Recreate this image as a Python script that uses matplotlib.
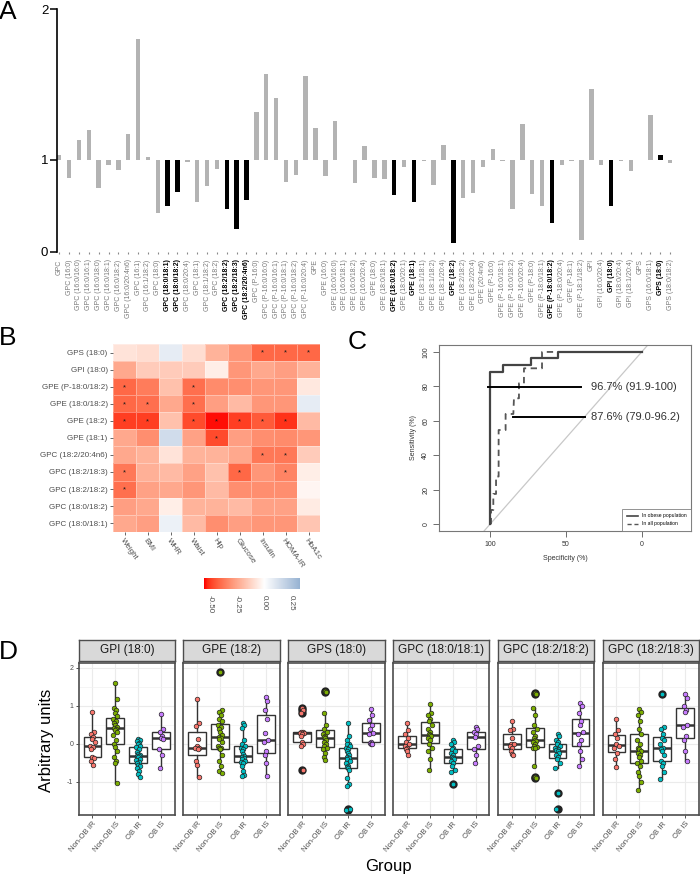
import numpy as np
import matplotlib
matplotlib.use("Agg")
import matplotlib.pyplot as plt
from matplotlib.colors import LinearSegmentedColormap, Normalize
from matplotlib.lines import Line2D

plt.rcParams['font.family'] = ['Liberation Sans', 'DejaVu Sans']

# ---------------- Panel A data ----------------
A_labels = [
    "GPC", "GPC (16:0)", "GPC (16:0/16:0)", "GPC (16:0/16:1)", "GPC (16:0/18:0)",
    "GPC (16:0/18:1)", "GPC (16:0/18:2)", "GPC (16:0/20:4n6)", "GPC (16:1)", "GPC (16:1/18:2)",
    "GPC (18:0)", "GPC (18:0/18:1)", "GPC (18:0/18:2)", "GPC (18:0/20:4)", "GPC (18:1)",
    "GPC (18:1/18:2)", "GPC (18:2)", "GPC (18:2/18:2)", "GPC (18:2/18:3)", "GPC (18:2/20:4n6)",
    "GPC (P-16:0)", "GPC (P-16:0/16:0)", "GPC (P-16:0/16:1)", "GPC (P-16:0/18:1)", "GPC (P-16:0/18:2)",
    "GPC (P-16:0/20:4)", "GPE", "GPE (16:0)", "GPE (16:0/16:0)", "GPE (16:0/18:1)",
    "GPE (16:0/18:2)", "GPE (16:0/20:4)", "GPE (18:0)", "GPE (18:0/18:1)", "GPE (18:0/18:2)",
    "GPE (18:0/20:1)", "GPE (18:1)", "GPE (18:1/18:1)", "GPE (18:1/18:2)", "GPE (18:1/20:4)",
    "GPE (18:2)", "GPE (18:2/18:2)", "GPE (18:2/20:4)", "GPE (20:4n6)", "GPE (P-16:0)",
    "GPE (P-16:0/18:1)", "GPE (P-16:0/18:2)", "GPE (P-16:0/20:4)", "GPE (P-18:0)", "GPE (P-18:0/18:1)",
    "GPE (P-18:0/18:2)", "GPE (P-18:0/20:4)", "GPE (P-18:1)", "GPE (P-18:1/18:2)", "GPI",
    "GPI (16:0/20:4)", "GPI (18:0)", "GPI (18:0/20:4)", "GPI (18:1/20:4)", "GPS",
    "GPS (16:0/18:1)", "GPS (18:0)", "GPS (18:0/18:2)",
]
A_values = [
    1.03, 0.80, 1.13, 1.20, 0.69,
    0.95, 0.89, 1.17, 1.80, 1.02,
    0.42, 0.50, 0.65, 0.98, 0.54,
    0.72, 0.90, 0.46, 0.25, 0.56,
    1.32, 1.57, 1.41, 0.76, 0.84,
    1.56, 1.21, 0.83, 1.26, 0.995,
    0.75, 1.09, 0.80, 0.79, 0.62,
    0.92, 0.54, 0.99, 0.73, 1.10,
    0.10, 0.58, 0.64, 0.92, 1.07,
    0.99, 0.47, 1.24, 0.63, 0.50,
    0.31, 0.94, 0.99, 0.13, 1.47,
    0.95, 0.50, 0.99, 0.88, 1.0,
    1.30, 1.03, 0.97,
]
A_significant = [
    "GPC (18:0/18:1)", "GPC (18:0/18:2)", "GPC (18:2/18:2)", "GPC (18:2/18:3)",
    "GPC (18:2/20:4n6)", "GPE (18:0/18:2)", "GPE (18:1)", "GPE (18:2)",
    "GPE (P-18:0/18:2)", "GPI (18:0)", "GPS (18:0)",
]
A_yticks = [0, 1, 2]

# ---------------- Panel B data ----------------
B_rows = ["GPS (18:0)", "GPI (18:0)", "GPE (P-18:0/18:2)", "GPE (18:0/18:2)", "GPE (18:2)",
          "GPE (18:1)", "GPC (18:2/20:4n6)", "GPC (18:2/18:3)", "GPC (18:2/18:2)",
          "GPC (18:0/18:2)", "GPC (18:0/18:1)"]
B_cols = ["Weight", "BMI", "WHR", "Waist", "Hip", "Glucose", "Insulin", "HOMA-IR", "HbA1c"]
B_values = [
    [-0.08, -0.10, 0.08, -0.10, -0.22, -0.30, -0.42, -0.42, -0.42],
    [-0.25, -0.15, -0.15, -0.15, -0.05, -0.30, -0.25, -0.28, -0.22],
    [-0.42, -0.37, -0.18, -0.40, -0.33, -0.32, -0.30, -0.30, -0.07],
    [-0.42, -0.40, -0.25, -0.40, -0.28, -0.20, -0.30, -0.30, 0.08],
    [-0.50, -0.50, -0.18, -0.48, -0.55, -0.50, -0.45, -0.52, -0.20],
    [-0.25, -0.32, 0.15, -0.27, -0.48, -0.28, -0.32, -0.33, -0.30],
    [-0.25, -0.22, -0.08, -0.22, -0.22, -0.25, -0.38, -0.38, -0.15],
    [-0.38, -0.23, -0.20, -0.27, -0.18, -0.42, -0.30, -0.35, -0.05],
    [-0.40, -0.27, -0.25, -0.30, -0.20, -0.32, -0.32, -0.32, -0.03],
    [-0.28, -0.25, -0.05, -0.22, -0.22, -0.20, -0.27, -0.27, -0.06],
    [-0.25, -0.28, 0.06, -0.20, -0.32, -0.28, -0.30, -0.30, -0.17],
]
B_stars = [
    [0, 0, 0, 0, 0, 0, 1, 1, 1],
    [0, 0, 0, 0, 0, 0, 0, 0, 0],
    [1, 0, 0, 1, 0, 0, 0, 0, 0],
    [1, 1, 0, 1, 0, 0, 0, 0, 0],
    [1, 1, 0, 1, 1, 1, 1, 1, 0],
    [0, 0, 0, 0, 1, 0, 0, 0, 0],
    [0, 0, 0, 0, 0, 0, 1, 1, 0],
    [1, 0, 0, 0, 0, 1, 0, 1, 0],
    [1, 0, 0, 0, 0, 0, 0, 0, 0],
    [0, 0, 0, 0, 0, 0, 0, 0, 0],
    [0, 0, 0, 0, 0, 0, 0, 0, 0],
]
B_limits = (-0.56, 0.33)
B_cbar_ticks = [-0.50, -0.25, 0.00, 0.25]

# ---------------- Panel C data ----------------
C_spec_obese = [100, 100, 91.6, 91.6, 73.2, 73.2, 55, 55, 0]
C_sens_obese = [0, 88.4, 88.4, 92.5, 92.5, 96.3, 96.3, 100, 100]
C_spec_all = [99.3, 99.3, 97.8, 97.8, 96.0, 96.0, 94.3, 94.3, 89.7, 89.7, 84.6, 84.2,
              80.9, 80.9, 77.6, 77.6, 65.7, 65.7, 58.2]
C_sens_all = [0, 8.3, 8.3, 17.6, 17.6, 27.7, 27.7, 54.7, 54.7, 64.0, 64.0, 73.1,
              73.1, 81.8, 81.8, 90.5, 90.5, 100, 100]
C_auc_text = ["96.7% (91.9-100)", "87.6% (79.0-96.2)"]
C_auc_y = [79.7, 62.1]
C_auc_from = [101.5, 84.6]
C_auc_to = [40.2, 37.4]
C_legend = ["In obese population", "In all population"]

# ---------------- Panel D data ----------------
D_groups = ["Non-OB IR", "Non-OB IS", "OB IR", "OB IS"]
D_titles = ["GPI (18:0)", "GPE (18:2)", "GPS (18:0)", "GPC (18:0/18:1)", "GPC (18:2/18:2)", "GPC (18:2/18:3)"]
D_gpi_18_0 = [
    [0.83, 0.30, 0.25, 0.18, 0.12, 0.05, -0.05, -0.08, -0.15, -0.35, -0.38, -0.45, -0.55],
    [1.60, 1.18, 0.95, 0.90, 0.82, 0.72, 0.65, 0.60, 0.55, 0.50, 0.45, 0.42, 0.40, 0.35, 0.30,
     0.22, 0.10, 0.00, -0.08, -0.20, -0.35, -0.45, -0.50, -1.03],
    [0.12, 0.10, 0.06, 0.02, -0.02, -0.06, -0.08, -0.15, -0.22, -0.28, -0.30, -0.32, -0.33,
     -0.36, -0.40, -0.44, -0.48, -0.50, -0.55, -0.60, -0.65, -0.72, -0.80, -0.88],
    [0.78, 0.38, 0.30, 0.20, 0.15, 0.12, -0.13, -0.30, -0.65],
]
D_gpe_18_2 = [
    [1.18, 0.55, 0.48, 0.12, -0.05, -0.10, -0.12, -0.15, -0.45, -0.55, -0.87],
    [1.90, 0.90, 0.85, 0.75, 0.65, 0.60, 0.50, 0.45, 0.40, 0.30, 0.22, 0.18, 0.15, 0.12, 0.05,
     -0.05, -0.10, -0.12, -0.15, -0.30, -0.45, -0.60, -0.72, -0.78],
    [0.55, 0.50, 0.42, 0.10, 0.00, -0.05, -0.10, -0.15, -0.20, -0.28, -0.33, -0.36, -0.38,
     -0.40, -0.45, -0.48, -0.50, -0.60, -0.72, -0.82, -0.85],
    [1.22, 1.12, 0.88, 0.65, 0.28, 0.10, 0.05, -0.20, -0.30, -0.50, -0.85],
]
D_gps_18_0 = [
    [0.95, 0.90, 0.82, 0.30, 0.30, 0.29, 0.28, 0.27, 0.20, 0.05, 0.00, -0.05, -0.70],
    [1.38, 1.36, 0.82, 0.50, 0.40, 0.30, 0.25, 0.20, 0.18, 0.15, 0.10, 0.05, 0.00, -0.05,
     -0.10, -0.15, -0.25, -0.35, -0.42],
    [0.55, 0.20, 0.10, 0.00, -0.02, -0.05, -0.10, -0.15, -0.20, -0.25, -0.30, -0.35, -0.38,
     -0.40, -0.45, -0.50, -0.60, -0.62, -0.65, -0.68, -0.90, -1.05, -1.12, -1.72, -1.75],
    [0.92, 0.75, 0.62, 0.50, 0.40, 0.28, 0.27, 0.05, 0.02, 0.00, -0.02],
]
D_gpc_18_0_18_1 = [
    [0.55, 0.35, 0.25, 0.15, 0.05, 0.00, -0.05, -0.10, -0.15, -0.20, -0.30],
    [1.05, 0.80, 0.75, 0.65, 0.60, 0.50, 0.40, 0.30, 0.25, 0.22, 0.20, 0.15, 0.10, 0.00,
     -0.10, -0.20, -0.40, -0.70],
    [0.10, 0.05, 0.00, -0.10, -0.15, -0.20, -0.25, -0.30, -0.35, -0.38, -0.40, -0.45, -0.50,
     -0.60, -0.70, -0.75, -1.05],
    [0.45, 0.40, 0.30, 0.25, 0.19, -0.05, -0.15, -0.30, -0.50],
]
D_gpc_18_2_18_2 = [
    [0.60, 0.40, 0.35, 0.15, 0.00, -0.02, -0.05, -0.10, -0.20, -0.28, -0.30],
    [1.33, 1.30, 0.95, 0.75, 0.50, 0.40, 0.30, 0.20, 0.15, 0.10, 0.08, 0.05, 0.00, -0.05,
     -0.08, -0.10, -0.12, -0.60, -0.88, -0.90],
    [0.25, 0.20, 0.10, 0.05, 0.00, -0.05, -0.10, -0.15, -0.17, -0.20, -0.25, -0.30, -0.35,
     -0.40, -0.50, -0.65, -1.30, -1.72],
    [1.07, 1.00, 0.80, 0.60, 0.50, 0.30, 0.25, 0.10, 0.00, -0.20, -0.40, -0.58],
]
D_gpc_18_2_18_3 = [
    [0.65, 0.35, 0.25, 0.15, 0.00, -0.05, -0.10, -0.25, -0.40, -0.62],
    [0.92, 0.85, 0.75, 0.60, 0.40, 0.25, 0.10, 0.00, -0.10, -0.15, -0.20, -0.25, -0.30,
     -0.35, -0.45, -0.50, -0.60, -0.75, -0.85, -1.00, -1.22],
    [1.30, 0.45, 0.40, 0.25, 0.15, 0.10, 0.00, -0.10, -0.15, -0.20, -0.30, -0.45, -0.50,
     -0.60, -0.75, -0.92],
    [1.30, 1.20, 1.00, 0.90, 0.85, 0.50, 0.45, 0.20, 0.10, -0.20, -0.45],
]
D_data = [D_gpi_18_0, D_gpe_18_2, D_gps_18_0, D_gpc_18_0_18_1, D_gpc_18_2_18_2, D_gpc_18_2_18_3]
D_colors = ["#F8766D", "#7CAE00", "#00BFC4", "#C77CFF"]

# ---------------- Figure ----------------
W, H = 700, 877
fig = plt.figure(figsize=(W / 100, H / 100), dpi=100)


def ax_px(l, t, r, b):
    return fig.add_axes([l / W, 1 - b / H, (r - l) / W, (b - t) / H])


# ---------- Panel A ----------
K = 92.0 / 151.0


def fwd(v):
    v = np.asarray(v, dtype=float)
    return np.where(v <= 1, v * K, K + (v - 1))


def inv(u):
    u = np.asarray(u, dtype=float)
    return np.where(u <= K, u / K, u - K + 1)


axA = ax_px(56.7, 9.3, 680, 251.7)
axA.set_yscale('function', functions=(fwd, inv))
xs = np.arange(len(A_values))
colsA = ['black' if l in A_significant else '#b3b3b3' for l in A_labels]
heights = [v - 1 for v in A_values]
axA.bar(xs, heights, bottom=1, width=0.45, color=colsA, linewidth=0)
axA.set_ylim(0, 2)
axA.set_xlim(-0.26, 63.0)
axA.set_yticks(A_yticks)
axA.set_yticklabels([str(t) for t in A_yticks], fontsize=9.5)
axA.yaxis.set_minor_locator(matplotlib.ticker.NullLocator())
for s in ['top', 'right', 'bottom']:
    axA.spines[s].set_visible(False)
axA.spines['left'].set_linewidth(1.2)
axA.tick_params(axis='y', length=5, width=1.1, pad=1)
axA.set_xticks(xs)
axA.set_xticklabels(A_labels, rotation=90, fontsize=5.0)
axA.tick_params(axis='x', length=1.5, width=0.8, color='#888888', pad=4)
for lab in axA.get_xticklabels():
    if lab.get_text() in A_significant:
        lab.set_color('black')
        lab.set_fontweight('bold')
    else:
        lab.set_color('#7a7a7a')

# ---------- Lab colour interpolation for panel B ----------
_M = np.array([[0.4124, 0.3576, 0.1805], [0.2126, 0.7152, 0.0722], [0.0193, 0.1192, 0.9505]])
_WP = np.array([0.95047, 1.0, 1.08883])


def to_lab(rgb):
    c = np.asarray(rgb, dtype=float)
    lin = np.where(c <= 0.04045, c / 12.92, ((c + 0.055) / 1.055) ** 2.4)
    xyz = _M @ lin / _WP
    f = np.where(xyz > 0.008856, np.cbrt(xyz), 7.787 * xyz + 16 / 116)
    return np.array([116 * f[1] - 16, 500 * (f[0] - f[1]), 200 * (f[1] - f[2])])


def from_lab(lab):
    fy = (lab[0] + 16) / 116
    f = np.array([fy + lab[1] / 500, fy, fy - lab[2] / 200])
    xyz = np.where(f ** 3 > 0.008856, f ** 3, (f - 16 / 116) / 7.787) * _WP
    lin = np.clip(np.linalg.inv(_M) @ xyz, 0, 1)
    s = np.where(lin <= 0.0031308, 12.92 * lin, 1.055 * lin ** (1 / 2.4) - 0.055)
    return np.clip(s, 0, 1)


lab_red = to_lab([1, 0, 0])
lab_white = to_lab([1, 1, 1])
lab_blue = to_lab(matplotlib.colors.to_rgb('steelblue'))
nodes = []
for t in np.linspace(-1, 1, 41):
    if t < 0:
        lab = lab_white + (-t) * (lab_red - lab_white)
    else:
        lab = lab_white + t * (lab_blue - lab_white)
    nodes.append(from_lab(lab))
cmapB = LinearSegmentedColormap.from_list('rwb', nodes)
lim = max(abs(B_limits[0]), abs(B_limits[1]))
normB = Normalize(vmin=-lim, vmax=lim)

# ---------- Panel B ----------
axB = ax_px(113.3, 344, 320, 531.7)
vals = np.array(B_values)
nr, nc = vals.shape
axB.pcolormesh(np.arange(nc + 1) - 0.5, np.arange(nr + 1) - 0.5, vals, cmap=cmapB, norm=normB,
               edgecolors=(1, 1, 1, 0.35), linewidth=0.4)
axB.set_xlim(-0.5, nc - 0.5)
axB.set_ylim(nr - 0.5, -0.5)
for i in range(nr):
    for j in range(nc):
        if B_stars[i][j]:
            axB.text(j, i + 0.05, '*', ha='center', va='center', fontsize=5.5, color='#1a1a1a')
axB.set_yticks(range(nr))
axB.set_yticklabels(B_rows, fontsize=5.8, color='#4d4d4d')
axB.set_xticks(range(nc))
axB.set_xticklabels(B_cols, fontsize=5.8, color='#4d4d4d', rotation=-55, ha='left', va='top',
                    rotation_mode='anchor')
axB.tick_params(length=2, width=0.6, color='#4d4d4d', pad=2)
for s in axB.spines.values():
    s.set_visible(False)

# colorbar
axCB = ax_px(204, 578, 300, 589)
grad = np.linspace(B_limits[0], B_limits[1], 256)[None, :]
axCB.imshow(grad, cmap=cmapB, norm=normB, aspect='auto',
            extent=(B_limits[0], B_limits[1], 0, 1))
axCB.set_xlim(*B_limits)
axCB.set_yticks([])
axCB.set_xticks(B_cbar_ticks)
axCB.set_xticklabels(["%.2f" % t for t in B_cbar_ticks], rotation=-90, fontsize=5.8, color='#4d4d4d')
axCB.tick_params(axis='x', length=0, pad=4)
for s in axCB.spines.values():
    s.set_visible(False)

# ---------- Panel C ----------
axC = ax_px(439, 344.7, 691, 531)
axC.set_xlim(133.6, -32.5)
axC.set_ylim(-3.9, 104.2)
axC.axline((100, 0), (0, 100), color='#c8c8c8', lw=0.9, zorder=1)
axC.plot(C_spec_all, C_sens_all, color='#555555', lw=1.3, ls=(0, (3.5, 2.5)), zorder=2,
         label=C_legend[1])
axC.plot(C_spec_obese, C_sens_obese, color='#444444', lw=1.6, zorder=3, label=C_legend[0])
for ytxt, x0, x1, txt in zip(C_auc_y, C_auc_from, C_auc_to, C_auc_text):
    axC.plot([x0, x1], [ytxt, ytxt], color='black', lw=1.4, zorder=4)
    axC.text(33.6, ytxt, txt, ha='left', va='center', fontsize=8, color='#333333', zorder=5)
axC.set_xticks([100, 50, 0])
axC.set_xticklabels(['100', '50', '0'], fontsize=5, color='#333333')
axC.set_yticks([0, 20, 40, 60, 80, 100])
axC.set_yticklabels(['0', '20', '40', '60', '80', '100'], fontsize=5, color='#333333',
                    rotation=90, va='center')
axC.tick_params(length=4, width=0.6, color='#555555', pad=3)
axC.set_xlabel('Specificity (%)', fontsize=5, color='#333333', labelpad=5)
axC.set_ylabel('Sensitivity (%)', fontsize=5, color='#333333', labelpad=4)
for s in axC.spines.values():
    s.set_color('#777777')
    s.set_linewidth(0.8)
handles = [Line2D([0], [0], color='#444444', lw=1.2),
           Line2D([0], [0], color='#555555', lw=1.0, ls=(0, (3, 2)))]
leg = axC.legend(handles, C_legend, loc='lower right', fontsize=3.6, frameon=True,
                 fancybox=False, borderaxespad=0.0, handlelength=2.2, borderpad=0.9,
                 labelspacing=0.6)
leg.get_frame().set_edgecolor('#777777')
leg.get_frame().set_linewidth(0.7)

# ---------- Panel D ----------
JIT = [0.0, 0.06, -0.06, 0.03, -0.03, 0.09, -0.09, 0.015, -0.045]
for k in range(6):
    l = 78.7 + k * 104.8
    ax = ax_px(l, 663, l + 96.3, 815)
    st = ax_px(l, 639.5, l + 96.3, 661)
    st.set_facecolor('#d9d9d9')
    st.set_xticks([])
    st.set_yticks([])
    for s in st.spines.values():
        s.set_color('#4d4d4d')
        s.set_linewidth(1.0)
    st.text(0.5, 0.5, D_titles[k], ha='center', va='center', fontsize=8.5, color='#1a1a1a',
            transform=st.transAxes)

    data = D_data[k]
    ax.boxplot(data, positions=[1, 2, 3, 4], widths=0.78, whis=1.5, showcaps=False,
               patch_artist=True, manage_ticks=False,
               boxprops=dict(facecolor='white', edgecolor='#333333', linewidth=1.0),
               medianprops=dict(color='#333333', linewidth=1.8),
               whiskerprops=dict(color='#333333', linewidth=1.0),
               flierprops=dict(marker='o', markerfacecolor='#222222', markeredgecolor='#222222',
                               markersize=5.0))
    for g in range(4):
        ys = data[g]
        xj = [g + 1 + JIT[i % len(JIT)] for i in range(len(ys))]
        ax.scatter(xj, ys, s=11, color=D_colors[g], edgecolors='#222222', linewidths=0.5, zorder=5)
    ax.set_xlim(0.4, 4.6)
    ax.set_ylim(-1.88, 2.13)
    ax.set_yticks([-1, 0, 1, 2])
    ax.set_yticks([-1.5, -0.5, 0.5, 1.5], minor=True)
    ax.set_xticks([1, 2, 3, 4])
    ax.grid(True, which='major', color='#ebebeb', lw=0.8, zorder=0)
    ax.grid(True, which='minor', axis='y', color='#f2f2f2', lw=0.5, zorder=0)
    ax.set_axisbelow(True)
    ax.set_xticklabels(D_groups, rotation=50, ha='right', va='top', rotation_mode='anchor',
                       fontsize=5.5, color='#4d4d4d')
    ax.tick_params(axis='both', which='major', length=2, width=0.6, color='#333333', pad=2)
    ax.tick_params(axis='y', which='minor', length=0)
    if k == 0:
        ax.set_yticklabels(['-1', '0', '1', '2'], fontsize=5, color='#4d4d4d')
    else:
        ax.set_yticklabels([])
        ax.tick_params(axis='y', which='major', length=0)
    for s in ax.spines.values():
        s.set_color('#4d4d4d')
        s.set_linewidth(1.2)

fig.text(47 / W, 1 - 740 / H, 'Arbitrary units', rotation=90, ha='center', va='center', fontsize=12)
fig.text(388 / W, 1 - 866 / H, 'Group', ha='center', va='center', fontsize=12)

# panel letters
for letter, (px, py) in zip("ABCD", [(8, 12), (8, 338), (357, 342), (8, 652)]):
    fig.text(px / W, 1 - py / H, letter, ha='center', va='center', fontsize=19)

fig.savefig('out.png', dpi=100)
